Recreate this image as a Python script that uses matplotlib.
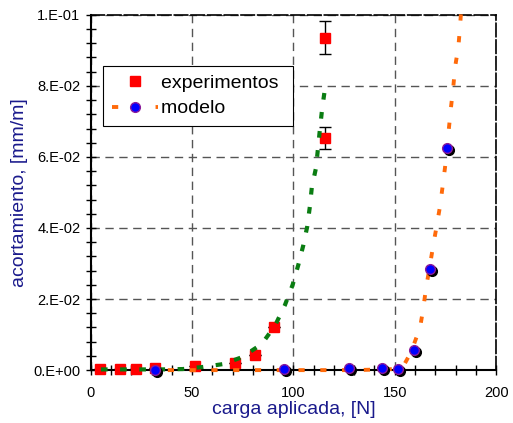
import matplotlib
matplotlib.use('Agg')
import matplotlib.pyplot as plt
import matplotlib.transforms as mtransforms
from matplotlib.ticker import MultipleLocator, FuncFormatter

plt.rcParams['font.family'] = ['Liberation Sans', 'DejaVu Sans']

# --- data ---
exp_x = [4.4, 14.3, 22.5, 31.6, 51.4, 71.1, 81.0, 90.4, 115.7, 115.7]
exp_y = [0.0002, 0.0002, 0.0002, 0.0005, 0.0012, 0.0019, 0.0042, 0.0122, 0.0653, 0.0936]
exp_err = [0, 0, 0, 0, 0, 0, 0, 0, 0.0032, 0.0046]

mod_x = [31.6, 95.3, 127.6, 143.5, 151.8, 159.5, 167.4, 175.6]
mod_y = [0.0, 0.0002, 0.0005, 0.0005, 0.0003, 0.0056, 0.0284, 0.0624]

fit_exp_x = [5, 20, 35, 45.4, 55.5, 65.3, 74.4, 84.3, 90.9, 95.8, 99.6, 102.4,
             104.9, 106.8, 108.1, 109.1, 111.1, 112.2, 113.1, 114.2, 115.6]
fit_exp_y = [0.0002, 0.0002, 0.0002, 0.0003, 0.0009, 0.0017, 0.0036, 0.0073, 0.0125,
             0.0183, 0.024, 0.0296, 0.0352, 0.0404, 0.046, 0.0516, 0.0568, 0.0629,
             0.068, 0.0737, 0.0794]

fit_mod_x = [38, 70, 100, 130, 150, 154.2, 158, 162.5, 164.1, 165.4, 167.4, 169.0,
             170.7, 172.3, 173.6, 174.8, 176.8, 177.8, 178.9, 179.8, 181.4, 182.2, 182.8]
fit_mod_y = [0.0, 0.0, 0.0, 0.0, 0.0003, 0.0011, 0.005, 0.012, 0.0174, 0.023, 0.0296,
             0.0352, 0.0406, 0.046, 0.0516, 0.057, 0.0685, 0.0742, 0.0798, 0.0854,
             0.091, 0.0965, 0.1015]

label_color = '#1a1a8c'

fig = plt.figure(figsize=(5.13, 4.23), dpi=100)
ax = fig.add_axes([0.177, 0.125, 0.790, 0.840])

# experiments
ax.errorbar(exp_x, exp_y, yerr=exp_err, fmt='s', color='red', ms=7.5, mec='red',
            ecolor='black', elinewidth=1, capsize=4, capthick=1, clip_on=False,
            zorder=3, label='experimentos')

# fitted curves
ax.plot(fit_exp_x, fit_exp_y, color='#0a7d12', lw=3, dashes=(1.6, 3.0),
        clip_on=False, zorder=4)
ax.plot(fit_mod_x, fit_mod_y, color='#ff6a0a', lw=2.8, dashes=(1.6, 4.0),
        clip_on=False, zorder=4)

# model points with dark shadow
shadow = ax.transData + mtransforms.ScaledTranslation(1.5 / 72, -1.5 / 72, fig.dpi_scale_trans)
ax.plot(mod_x, mod_y, 'o', color='black', ms=7, transform=shadow, clip_on=False, zorder=5)
ax.plot(mod_x, mod_y, 'o', color='blue', mec='#8a1a9a', mew=1, ms=7, clip_on=False, zorder=6)

# legend proxies
h_exp, = ax.plot([], [], 's', color='red', ms=7.5)
h_mod, = ax.plot([], [], color='#ff6a0a', lw=2.8, dashes=(1.6, 4.0), marker='o',
                 mfc='blue', mec='#8a1a9a', ms=7)
leg = ax.legend([h_exp, h_mod], ['experimentos', 'modelo'], loc='upper left',
                bbox_to_anchor=(0.03, 0.857), fontsize=14, frameon=True, fancybox=False,
                edgecolor='black', framealpha=1, handlelength=2.4, handletextpad=0.15,
                borderpad=0.45, labelspacing=0.4, borderaxespad=0)
leg.get_frame().set_linewidth(0.8)
leg.set_zorder(10)
# a bit of extra room on the right side of the box, like the original
for t in leg.get_texts():
    t.set_text(t.get_text() + ' ')

ax.set_xlim(0, 200)
ax.set_ylim(0, 0.1)
ax.xaxis.set_major_locator(MultipleLocator(50))
ax.xaxis.set_minor_locator(MultipleLocator(10))
ax.yaxis.set_major_locator(MultipleLocator(0.02))
ax.yaxis.set_minor_locator(MultipleLocator(0.004))

def sci_fmt(v, pos):
    if abs(v) < 1e-12:
        return '0.E+00'
    s = '%.0E' % v
    mant, exp = s.split('E')
    return '%s.E%s' % (mant, exp)

ax.yaxis.set_major_formatter(FuncFormatter(sci_fmt))

ax.tick_params(which='both', direction='inout', length=7, width=1, labelsize=10.5,
               top=False, right=False)
ax.tick_params(axis='x', pad=8)
ax.tick_params(axis='y', pad=4)

ax.grid(True, which='major', color='#555555', linestyle=(0, (6, 4)), lw=1)
ax.set_axisbelow(True)

for side in ['top', 'right']:
    ax.spines[side].set_linestyle((0, (8, 2)))
    ax.spines[side].set_linewidth(1.2)
for side in ['left', 'bottom']:
    ax.spines[side].set_linewidth(1.5)

ax.set_xlabel('carga aplicada, [N]', color=label_color, fontsize=14, labelpad=1)
ax.set_ylabel('acortamiento, [mm/m]', color=label_color, fontsize=14, labelpad=4)

fig.savefig('out.png', dpi=100)
